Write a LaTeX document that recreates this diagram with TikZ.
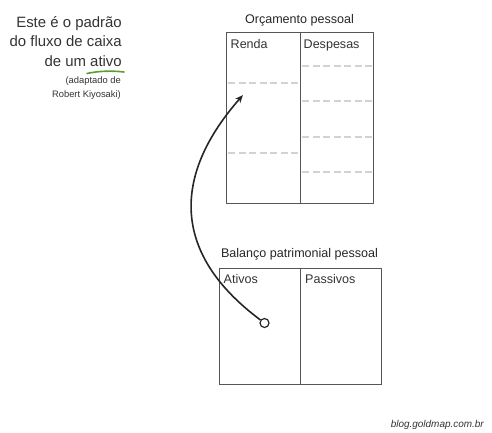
\documentclass[tikz,border=0pt]{standalone}
\usepackage{fontspec}
\setmainfont{Liberation Sans}
\usetikzlibrary{arrows.meta}
\definecolor{boxgray}{HTML}{555555}
\definecolor{dashgray}{HTML}{D2D2D2}
\definecolor{swoosh}{HTML}{5A9E30}
\definecolor{txtgray}{HTML}{333333}

\begin{document}
\begin{tikzpicture}[x=1bp, y=-1bp,
    bigtext/.style={font=\fontsize{15}{18}\selectfont, text=txtgray, anchor=base east, inner sep=0pt},
    smalltext/.style={font=\fontsize{9.4}{11}\selectfont, text=txtgray, anchor=base east, inner sep=0pt},
    title/.style={font=\fontsize{12.6}{15}\selectfont, text=black!85, anchor=base, inner sep=0pt},
    colname/.style={font=\fontsize{12.6}{15}\selectfont, text=txtgray, anchor=base west, inner sep=0pt},
    frame/.style={draw=boxgray, line width=0.8bp},
    entry/.style={draw=dashgray, line width=1.1bp, dash pattern=on 7bp off 3.5bp},
    flow/.style={draw=black!85, line width=1.6bp, -{Stealth[length=8bp, width=6.5bp, inset=2.5bp]}}]

    \useasboundingbox (0, 0) rectangle (492, 432);

    % note at the top left
    \node[bigtext] (line1) at (122, 27) {Este é o padrão};
    \node[bigtext] (line2) at (122, 46.5) {do fluxo de caixa};
    \node[bigtext] (line3) at (122, 66) {de um ativo};
    \node[smalltext] (src1) at (121, 83) {(adaptado de};
    \node[smalltext] (src2) at (121, 97) {Robert Kiyosaki)};
    \draw[swoosh, line width=1.6bp, line cap=round] (87, 73.5) .. controls (98, 71) and (112, 70.5) .. (124, 72);

    % budget
    \draw[frame] (226, 32) rectangle (373, 203);
    \draw[frame] (300, 32) -- (300, 203);
    \node[title] (budget) at (299.5, 23) {Orçamento pessoal};
    \node[colname] (income) at (230.5, 48) {Renda};
    \node[colname] (expense) at (303.5, 48) {Despesas};
    \foreach \y in {83, 153}
        \draw[entry] (228, \y) -- (298, \y);
    \foreach \y in {66, 101, 137, 172}
        \draw[entry] (302, \y) -- (372, \y);

    % balance sheet
    \draw[frame] (219, 268) rectangle (381, 384);
    \draw[frame] (300, 268) -- (300, 384);
    \node[title] (balance) at (299.5, 257) {Balanço patrimonial pessoal};
    \node[colname] (assets) at (223.5, 283) {Ativos};
    \node[colname] (debts) at (305, 283) {Passivos};

    % cash flow of an asset
    \node[circle, draw=black!85, fill=white, line width=1.2bp, minimum size=9bp, inner sep=0pt] (asset) at (264.5, 323) {};
    \coordinate (income-in) at (243, 95);
    \draw[flow] (asset) .. controls (166.6, 250) and (176.4, 170.7) .. (income-in);

    \node[font=\fontsize{10}{12}\selectfont\itshape, text=txtgray, anchor=base east, inner sep=0pt] (blog) at (484, 427) {blog.goldmap.com.br};
\end{tikzpicture}
\end{document}
